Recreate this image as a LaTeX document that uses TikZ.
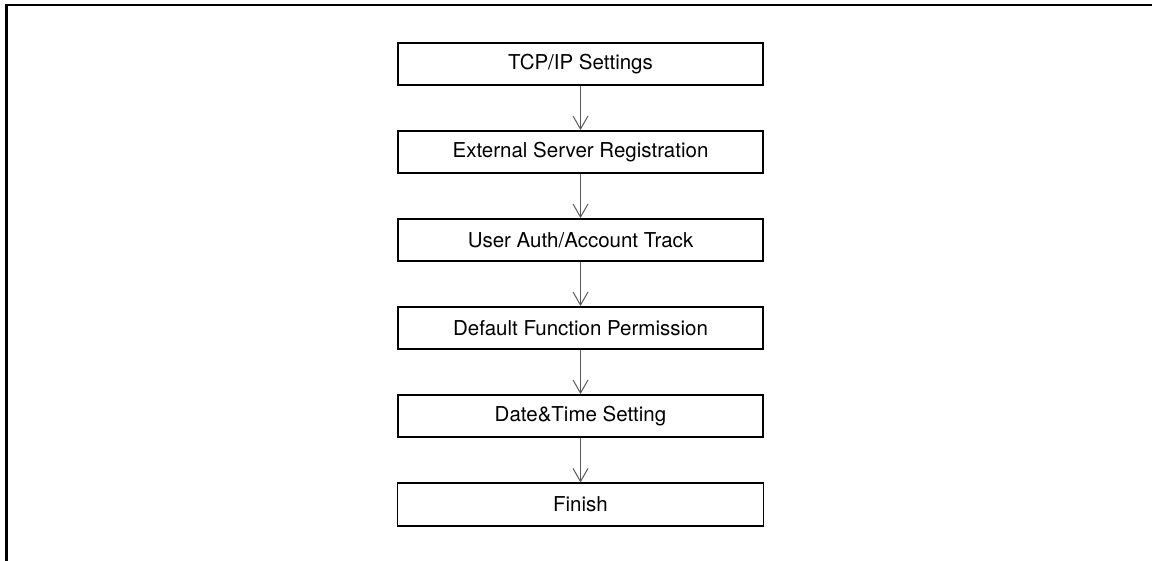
\documentclass[tikz,border=0pt]{standalone}
\usepackage{fontspec}
\setmainfont{TeX Gyre Heros}
\usetikzlibrary{arrows.meta}
\begin{document}
\begin{tikzpicture}[x=1pt,y=1pt,
  stepbox/.style={draw=black, line width=2.4pt, minimum width=364.6pt, minimum height=41.6pt, inner sep=0pt, font=\fontsize{20.5}{24}\selectfont},
  endbox/.style={draw=black, line width=1.1pt, minimum width=366pt, minimum height=43pt, inner sep=0pt, font=\fontsize{20.5}{24}\selectfont},
  flow/.style={draw=black!65, line width=1pt, -{Straight Barb[length=13pt,width=15pt,line width=1pt]}}]
\useasboundingbox (0,0) rectangle (1152,-561);
\coordinate (fa) at (6.5,-561);
\coordinate (fb) at (6.5,-5);
\coordinate (fc) at (1152,-5);
\draw[line width=2.2pt] (fa) -- (fb) -- (fc);
\node[stepbox] (n1) at (580.5,-64) {TCP/IP Settings};
\node[stepbox] (n2) at (580.5,-152) {External Server Registration};
\node[stepbox] (n3) at (580.5,-240) {User Auth/Account Track};
\node[stepbox] (n4) at (580.5,-328) {Default Function Permission};
\node[stepbox] (n5) at (580.5,-416) {Date\&Time Setting};
\node[endbox] (n6) at (580.5,-504.5) {Finish};
\draw[flow] (n1.south) -- (n2.north);
\draw[flow] (n2.south) -- (n3.north);
\draw[flow] (n3.south) -- (n4.north);
\draw[flow] (n4.south) -- (n5.north);
\draw[flow] (n5.south) -- (n6.north);
\end{tikzpicture}
\end{document}
